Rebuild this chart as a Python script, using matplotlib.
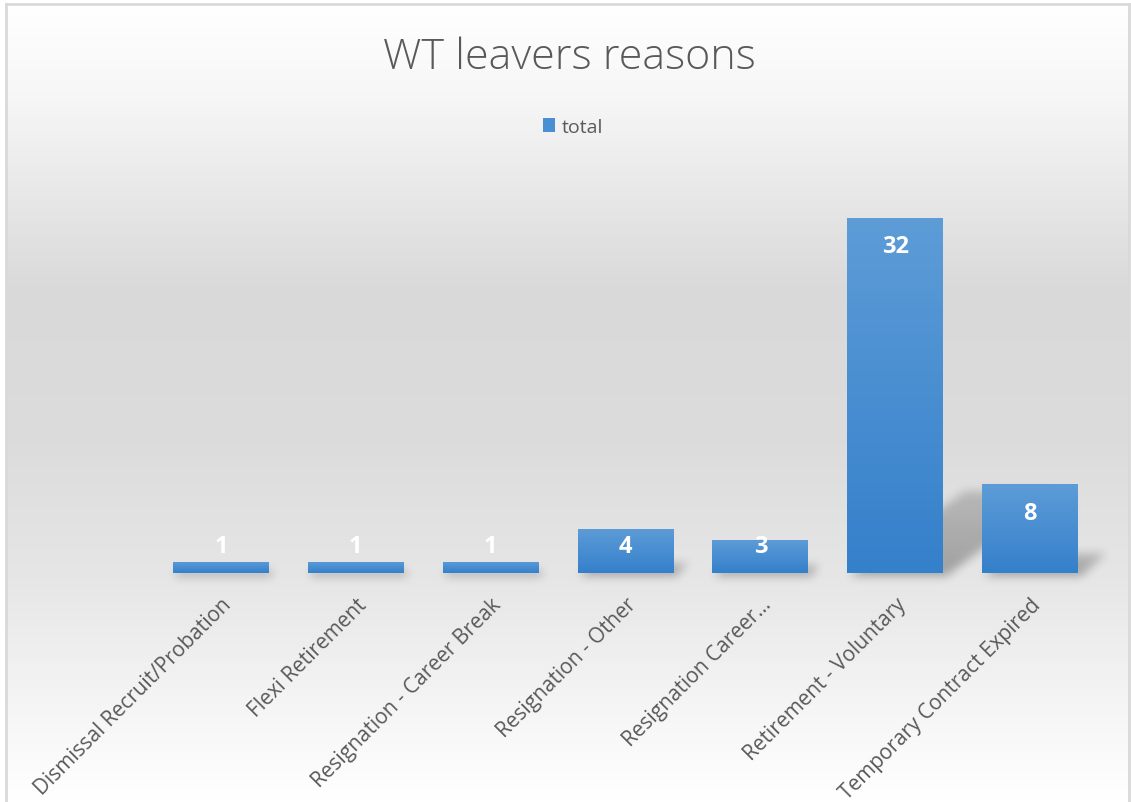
import numpy as np
import matplotlib
matplotlib.use("Agg")
import matplotlib.pyplot as plt
from matplotlib.colors import LinearSegmentedColormap
from matplotlib.patches import Patch
from matplotlib.path import Path

reasons = [
    "Dismissal Recruit/Probation",
    "Flexi Retirement",
    "Resignation - Career Break",
    "Resignation - Other",
    "Resignation Career\u2026",
    "Retirement - Voluntary",
    "Temporary Contract Expired",
]
totals = [1, 1, 1, 4, 3, 32, 8]
series_name = "total"
title = "WT leavers reasons"

plt.rcParams["font.family"] = ["Open Sans", "DejaVu Sans"]
text_grey = "#595959"
bar_top, bar_bottom = "#5d9cd7", "#3580cb"

W, H = 1131, 803
fig = plt.figure(figsize=(W / 100, H / 100), dpi=100)
fig.patch.set_facecolor("white")

# chart area background: soft vertical grey gradient inside a thin frame
bg = fig.add_axes([6 / W, 0, (1129 - 6) / W, (H - 5) / H], zorder=-5)
stops = [(0.0, "#ffffff"), (0.12, "#f6f6f6"), (0.36, "#d9d9d9"),
         (0.55, "#dcdcdc"), (0.72, "#e6e6e6"), (0.88, "#f5f5f5"), (1.0, "#ffffff")]
bg_cmap = LinearSegmentedColormap.from_list("bg", stops)
bg.imshow(np.linspace(0, 1, 256).reshape(-1, 1), cmap=bg_cmap, aspect="auto",
          extent=[0, 1, 1, 0])
bg.set_xlim(0, 1)
bg.set_ylim(1, 0)
bg.set_xticks([])
bg.set_yticks([])
for side in ("left", "top", "right"):
    bg.spines[side].set_color("#d9d9d9")
    bg.spines[side].set_linewidth(2)
bg.spines["bottom"].set_visible(False)

# plot area
px_per_unit = (574 - 219) / 32
x0_px, x1_px = 153.6, 1097.4
ax = fig.add_axes([x0_px / W, (H - 574) / H, (x1_px - x0_px) / W,
                   35 * px_per_unit / H])
ax.patch.set_alpha(0)
x = np.arange(len(reasons))
width = 0.712
ax.set_xlim(-0.5, len(reasons) - 0.5)
ax.set_ylim(0, 35)

# bars with a light-to-dark blue gradient
bars = ax.bar(x, totals, width=width, color="none", zorder=3)
bar_cmap = LinearSegmentedColormap.from_list("bar", [bar_bottom, bar_top])
grad = np.linspace(1, 0, 128).reshape(-1, 1)
for rect, v in zip(bars, totals):
    im = ax.imshow(grad, cmap=bar_cmap, aspect="auto", zorder=3,
                   extent=[rect.get_x(), rect.get_x() + rect.get_width(), 0, v])
    im.set_clip_path(rect)

# value labels near the top of each bar
for xi, v in zip(x, totals):
    ax.text(xi, max(v - 2.55, 2.45), str(v), ha="center", va="center",
            color="white", fontsize=17, fontweight="bold", zorder=5)

ax.set_xticks(x)
ax.set_xticklabels(reasons, rotation=45, ha="right", va="top",
                   rotation_mode="anchor", fontsize=15, color=text_grey)
ax.tick_params(axis="x", length=0, pad=15)
ax.set_yticks([])
for s in ax.spines.values():
    s.set_visible(False)


# perspective shadows: sheared bar outlines in pixel space, faded and blurred
def box_blur(a, r, axis):
    c = np.cumsum(np.pad(a, [(r + 1, r) if i == axis else (0, 0)
                             for i in range(a.ndim)]), axis=axis)
    hi = np.take(c, np.arange(2 * r + 1, c.shape[axis]), axis=axis)
    lo = np.take(c, np.arange(0, c.shape[axis] - 2 * r - 1), axis=axis)
    return (hi - lo) / (2 * r + 1)


fig.canvas.draw()
to_px = ax.transData
yy, xx = np.mgrid[0:H, 0:W]
pts = np.column_stack([xx.ravel() + 0.5, (H - yy.ravel()) - 0.5])
shadow = np.zeros((H, W))
for rect, v in zip(bars, totals):
    (lx, by), (rx, ty) = to_px.transform([(rect.get_x(), 0),
                                          (rect.get_x() + rect.get_width(), v)])
    h = ty - by
    dx, dy = 0.33 * h, 0.23 * h
    poly = Path([(lx + 2, by - 3), (rx + 3, by - 3), (rx + dx, by + dy), (lx + dx, by + dy)])
    inside = poly.contains_points(pts).reshape(H, W).astype(float)
    fade = np.clip(1 - 0.4 * ((H - yy) - by) / max(dy, 1), 0, 1)
    shadow = np.maximum(shadow, inside * fade)
for _ in range(3):
    shadow = box_blur(box_blur(shadow, 4, 0), 4, 1)

sh_ax = fig.add_axes([0, 0, 1, 1], zorder=-4)
sh_ax.set_axis_off()
rgba = np.zeros((H, W, 4))
rgba[..., 3] = 0.3 * shadow
sh_ax.imshow(rgba, aspect="auto", extent=[0, W, H, 0], interpolation="nearest")
sh_ax.set_xlim(0, W)
sh_ax.set_ylim(H, 0)

fig.text(569 / W, 1 - 58 / H, title, ha="center", va="center",
         fontsize=31, fontweight="light", color=text_grey)
fig.legend(handles=[Patch(facecolor="#4a8fd3", label=series_name)],
           loc="center", bbox_to_anchor=(573 / W, 1 - 128 / H), frameon=False,
           fontsize=14, handlelength=0.65, handleheight=0.75, handletextpad=0.35,
           labelcolor=text_grey)

fig.savefig("out.png", dpi=100)
